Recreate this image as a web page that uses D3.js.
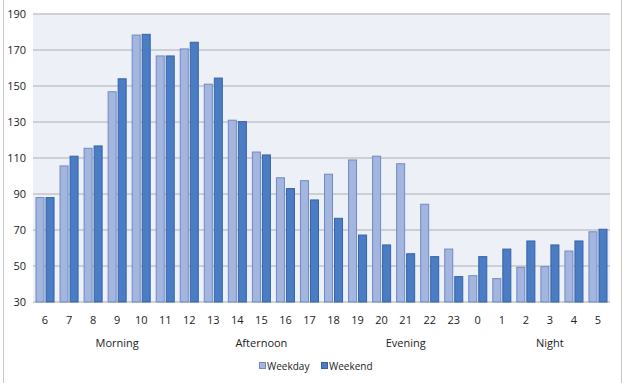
<!DOCTYPE html>
<html>
<head>
<meta charset="utf-8">
<script src="https://cdn.jsdelivr.net/npm/d3@7"></script>
<style>
	body { margin: 0; background: #fff; }
	text { font-family: "Open Sans", "DejaVu Sans", sans-serif; fill: #222; }
</style>
</head>
<body>
<svg width="624" height="383"></svg>
<script>
// hours, in the order of the chart
var hours = ["6", "7", "8", "9", "10", "11", "12", "13", "14", "15", "16", "17",
	"18", "19", "20", "21", "22", "23", "0", "1", "2", "3", "4", "5"];
var weekday = [88, 105.6, 115.4, 146.8, 178.3, 166.7, 170.6, 151, 131, 113.3, 99, 97.4,
	101, 108.9, 111, 106.8, 84.3, 59.4, 44.6, 43, 49.3, 49.6, 58.3, 69];
var weekend = [88, 111, 116.7, 154, 178.7, 166.7, 174.3, 154.4, 130.2, 111.7, 93, 86.7,
	76.5, 67.2, 61.7, 56.8, 55.2, 44.1, 55.2, 59.4, 63.9, 61.7, 63.9, 70.4];
var yTicks = [30, 50, 70, 90, 110, 130, 150, 170, 190];
// day parts: label, first hour, last hour
var parts = [["Morning", "6", "12"], ["Afternoon", "13", "17"], ["Evening", "18", "0"], ["Night", "1", "5"]];
var seriesNames = ["Weekday", "Weekend"];

var svg = d3.select("svg"), width = +svg.attr("width"), height = +svg.attr("height");
var plotLeft = 33, plotRight = 610, plotTop = 14, plotBottom = 302;

var fills = ["#a3b6e0", "#4a7dc4"];
var strokes = ["#7189c0", "#3562a6"];

// outer frame
svg.append("line").attr("x1", 3.5).attr("x2", 3.5).attr("y1", 0).attr("y2", height).attr("stroke", "#c8c8c8");
svg.append("line").attr("x1", 621.5).attr("x2", 621.5).attr("y1", 0).attr("y2", height).attr("stroke", "#c8c8c8");

var x = d3.scaleBand().domain(hours).range([plotLeft, plotRight]);
var inner = d3.scaleBand().domain(seriesNames).range([0, x.bandwidth()]).paddingOuter(0.25).paddingInner(0.1);
var y = d3.scaleLinear().domain([30, 190]).range([plotBottom, plotTop]);

svg.append("rect").attr("x", plotLeft).attr("y", plotTop).attr("width", plotRight - plotLeft).attr("height", plotBottom - plotTop)
	.attr("fill", "#eef0f7");

// grid
svg.append("g").selectAll("line").data(yTicks).enter().append("line")
	.attr("x1", plotLeft).attr("x2", plotRight)
	.attr("y1", function(d) { return y(d); }).attr("y2", function(d) { return y(d); })
	.attr("stroke", "#c2c4c9").attr("stroke-width", 1.6);

svg.append("g").selectAll("text").data(yTicks).enter().append("text")
	.attr("x", 26).attr("y", function(d) { return y(d); }).attr("dy", "0.35em")
	.attr("text-anchor", "end").attr("font-size", 11).text(function(d) { return d; });

// bars
[weekday, weekend].forEach(function(vals, i) {
	svg.append("g").selectAll("rect").data(vals).enter().append("rect")
		.attr("x", function(d, j) { return x(hours[j]) + inner(seriesNames[i]) + 0.5; })
		.attr("y", function(d) { return y(d); })
		.attr("width", inner.bandwidth() - 1)
		.attr("height", function(d) { return y(30) - y(d); })
		.attr("fill", fills[i]).attr("stroke", strokes[i]).attr("stroke-width", 1);
});

// hour labels
svg.append("g").selectAll("text").data(hours).enter().append("text")
	.attr("x", function(d) { return x(d) + x.bandwidth() / 2; }).attr("y", 324)
	.attr("text-anchor", "middle").attr("font-size", 11).text(function(d) { return d; });

// day parts
svg.append("g").selectAll("text").data(parts).enter().append("text")
	.attr("x", function(d) { return (x(d[1]) + x(d[2]) + x.bandwidth()) / 2; }).attr("y", 347)
	.attr("text-anchor", "middle").attr("font-size", 11).text(function(d) { return d[0]; });

// legend
var legX = [259, 321];
seriesNames.forEach(function(name, i) {
	svg.append("rect").attr("x", legX[i] + 0.5).attr("y", 362.5).attr("width", 6).attr("height", 6)
		.attr("fill", fills[i]).attr("stroke", strokes[i]);
	svg.append("text").attr("x", legX[i] + 8).attr("y", 370).attr("font-size", 10).text(name);
});
</script>
</body>
</html>
